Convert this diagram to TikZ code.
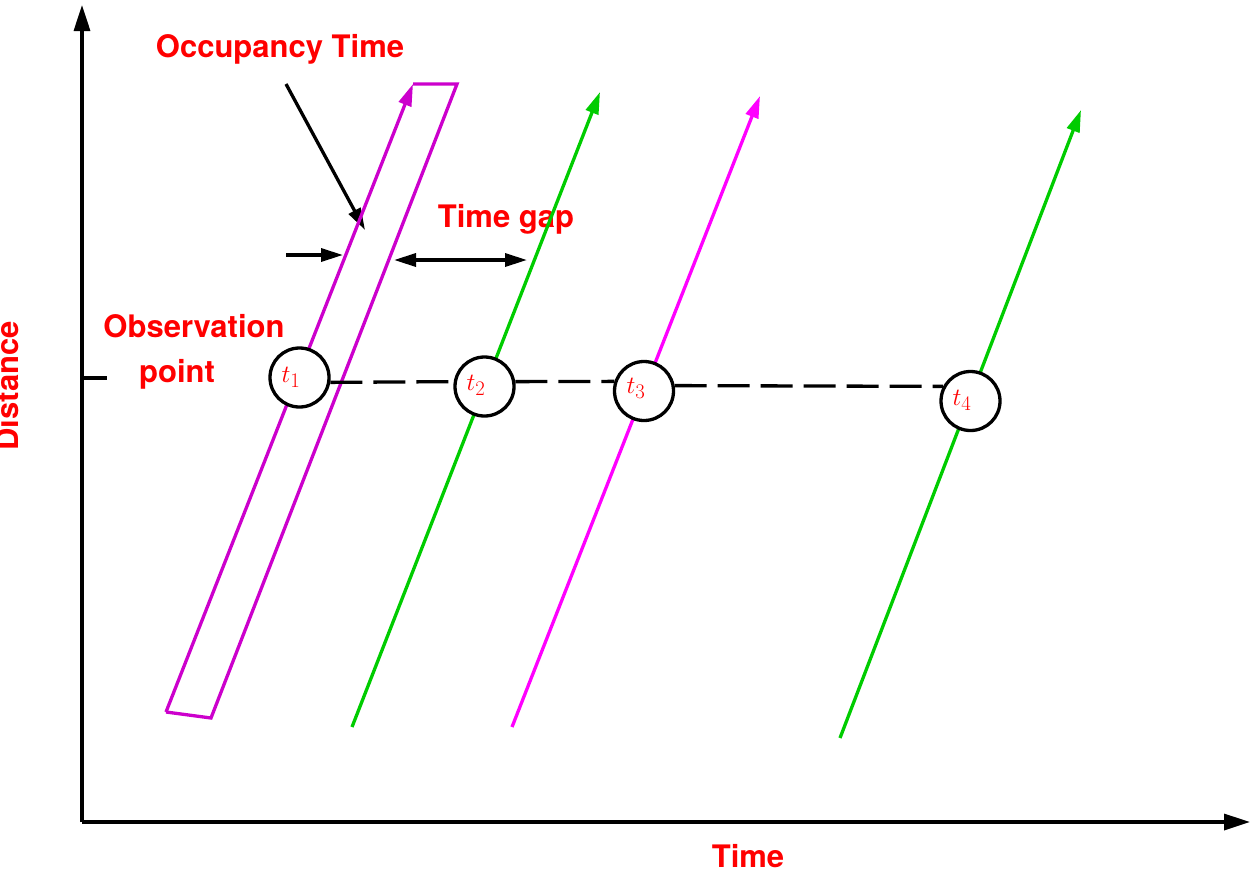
\documentclass[tikz,border=0pt]{standalone}
\usepackage{fontspec}
\newfontfamily\labfont{TeX Gyre Heros}
\usetikzlibrary{arrows.meta}
\definecolor{occ}{HTML}{CC00CC}
\definecolor{mag}{HTML}{FF00FF}
\definecolor{grn}{HTML}{00CC00}
\definecolor{lab}{HTML}{FF0000}
\tikzset{
  lbl/.style={text=lab, font=\labfont\bfseries\fontsize{31}{37}\selectfont, inner sep=0pt, anchor=base},
  tip/.style={-{Triangle[length=22pt,width=13pt]}},
  axis/.style={line width=3.3pt, -{Triangle[length=26pt,width=16pt]}},
  veh/.style={line width=3.3pt, line join=miter},
  circ/.style={circle, draw=black, line width=3.3pt, fill=white, minimum size=59pt, inner sep=0pt},
  tlab/.style={text=lab, font=\fontsize{31}{36}\selectfont, inner sep=0pt},
  dsh/.style={line width=3.3pt, dash pattern=on 32pt off 11pt},
  blk/.style={line width=3.3pt, -{Triangle[length=22pt,width=13pt]}}
}
\begin{document}
\begin{tikzpicture}[x=1pt,y=-1pt]
\useasboundingbox (0,0) rectangle (1257,873);
% labels (drawn first, lines pass over them)
\node[lbl] (occlab) at (280,57) {Occupancy Time};
\node[lbl] (gaplab) at (506,227) {Time gap};
\node[lbl] (obs1) at (194,337) {Observation};
\node[lbl] (obs2) at (177,382) {point};
\node[lbl] (timelab) at (748,867) {Time};
\node[lbl, rotate=90] (distlab) at (18,386) {Distance};
% axes
\coordinate (O) at (82,822);
\coordinate (ytop) at (82,5);
\coordinate (xend) at (1250,822);
\draw[axis] (O) -- (ytop);
\draw[axis] (O) -- (xend);
\coordinate (tk0) at (82,378);
\coordinate (tk1) at (107,378);
\draw[line width=3.3pt] (tk0) -- (tk1);
% annotation arrows
\coordinate (oa) at (286,84);
\coordinate (ob) at (365,230);
\draw[blk] (oa) -- (ob);
\coordinate (sa) at (286,255);
\coordinate (sb) at (343,255);
\draw[blk] (sa) -- (sb);
\coordinate (ga) at (394,260);
\coordinate (gb) at (527,260);
\draw[blk, {Triangle[length=22pt,width=13pt]}-{Triangle[length=22pt,width=13pt]}] (ga) -- (gb);
% occupancy parallelogram
\coordinate (p1) at (166,712);
\coordinate (p2) at (413,84);
\coordinate (p3) at (457,84);
\coordinate (p4) at (211,718);
\draw[veh, occ, tip] (p1) -- (p2);
\draw[veh, occ] (p2) -- (p3) -- (p4) -- (p1);
% vehicles
\coordinate (g1a) at (352,727);
\coordinate (g1b) at (600,92);
\draw[veh, grn, tip] (g1a) -- (g1b);
\coordinate (m1a) at (512,727);
\coordinate (m1b) at (760,96);
\draw[veh, mag, tip] (m1a) -- (m1b);
\coordinate (g2a) at (840,738);
\coordinate (g2b) at (1081,110);
\draw[veh, grn, tip] (g2a) -- (g2b);
% circles
\node[circ] (t1) at (299.5,377.5) {};
\node[circ] (t2) at (484.5,386.5) {};
\node[circ] (t3) at (644,391) {};
\node[circ] (t4) at (970.5,401) {};
\node[tlab] (l1) at (291,377) {$t_1$};
\node[tlab] (l2) at (476,385) {$t_2$};
\node[tlab] (l3) at (636,388) {$t_3$};
\node[tlab] (l4) at (962,400) {$t_4$};
% dashed observation line
\draw[dsh] (t1.-9) -- (t2.171);
\draw[dsh] (t2.9) -- (t3.162);
\draw[dsh] (t3.10) -- (t4.152);
\end{tikzpicture}
\end{document}
